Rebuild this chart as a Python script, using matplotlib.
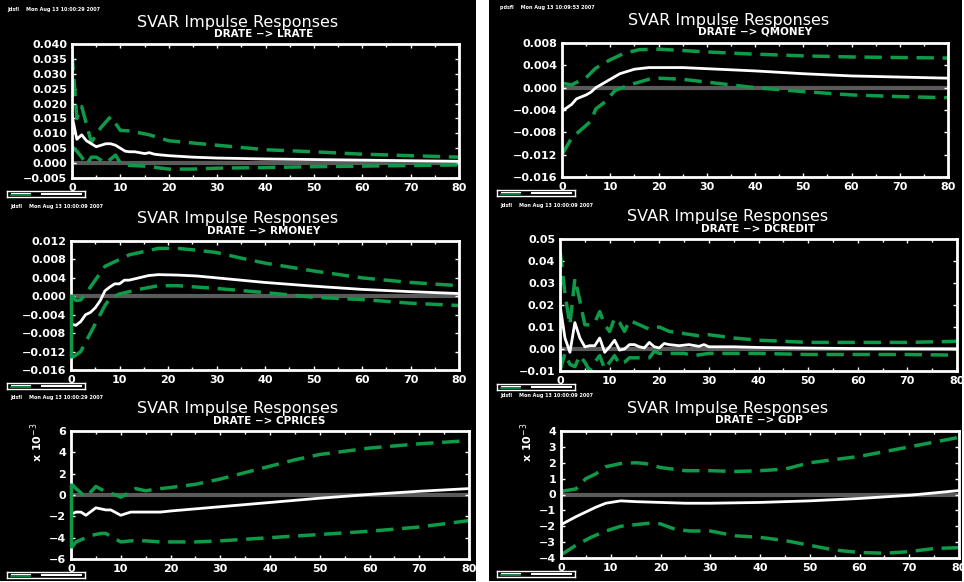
import numpy as np
import matplotlib.pyplot as plt
from matplotlib.patches import Rectangle

# ---- data (horizon, response) ----
lrate_x = [0, 1, 2, 3, 4, 5, 6, 7, 8, 9, 10, 11, 12, 13, 14, 15, 16, 17, 18, 20, 25, 30, 40, 50, 60, 70, 80]
lrate_irf = [0.016, 0.008, 0.0095, 0.0075, 0.0065, 0.0055, 0.006, 0.0065, 0.0065, 0.006, 0.005, 0.004,
             0.0038, 0.0038, 0.0035, 0.0032, 0.0035, 0.003, 0.0028, 0.0025, 0.002, 0.0017, 0.0014,
             0.0012, 0.001, 0.0008, 0.0006]
lrate_up_x = [0, 1, 2, 4, 6, 8, 10, 12, 16, 20, 30, 40, 50, 60, 70, 80]
lrate_up = [0.037, 0.015, 0.019, 0.007, 0.012, 0.0156, 0.011, 0.0108, 0.0095, 0.0075, 0.006, 0.0045,
            0.0038, 0.003, 0.0025, 0.002]
lrate_lo_x = [0, 1, 2, 3, 4, 5, 7, 9, 10, 11, 15, 20, 25, 30, 40, 50, 60, 70, 80]
lrate_lo = [0.0055, 0.004, 0.002, -0.0005, 0.002, 0.002, 0.0, 0.0027, 0.0, -0.0007, -0.001, -0.002,
            -0.002, -0.0017, -0.0015, -0.0012, -0.001, -0.0008, -0.0006]

qmoney_x = [0, 2, 3, 5, 6, 7, 10, 12, 15, 18, 25, 30, 40, 50, 60, 70, 80]
qmoney_irf = [-0.0042, -0.003, -0.002, -0.0013, -0.0008, 0.0, 0.0015, 0.0025, 0.0033, 0.0036, 0.0036,
              0.0034, 0.003, 0.0025, 0.0021, 0.0019, 0.0017]
qmoney_up_x = [0, 2, 5, 7, 10, 13, 16, 20, 30, 40, 50, 60, 70, 80]
qmoney_up = [0.0008, 0.0005, 0.0018, 0.0035, 0.005, 0.0062, 0.0068, 0.0069, 0.0064, 0.006, 0.0057,
             0.0055, 0.0054, 0.0053]
qmoney_lo_x = [0, 2, 4, 6, 7, 9, 11, 14, 18, 20, 25, 30, 40, 50, 60, 70, 80]
qmoney_lo = [-0.012, -0.009, -0.0075, -0.006, -0.0038, -0.0025, -0.0005, 0.0005, 0.0015, 0.0017,
             0.0015, 0.001, 0.0, -0.0007, -0.0013, -0.0016, -0.0018]

rmoney_x = [0, 1, 2, 3, 4, 5, 6, 7, 8, 9, 10, 11, 12, 14, 16, 18, 22, 26, 30, 35, 40, 50, 60, 70, 80]
rmoney_irf = [-0.006, -0.0063, -0.0055, -0.004, -0.0035, -0.0025, -0.001, 0.0012, 0.002, 0.0027, 0.0027,
              0.0035, 0.0035, 0.004, 0.0045, 0.0047, 0.0046, 0.0044, 0.004, 0.0035, 0.003, 0.0022,
              0.0015, 0.001, 0.0006]
rmoney_up_x = [0, 1, 2, 4, 6, 7, 9, 10, 12, 15, 18, 22, 26, 30, 35, 40, 50, 60, 70, 80]
rmoney_up = [0.0004, -0.0009, -0.0008, 0.002, 0.005, 0.0065, 0.0075, 0.008, 0.009, 0.0097, 0.0104,
             0.0104, 0.01, 0.0095, 0.0083, 0.0072, 0.0055, 0.004, 0.003, 0.0023]
rmoney_lo_x = [0, 2, 4, 6, 7, 8, 10, 14, 18, 22, 30, 40, 50, 60, 70, 80]
rmoney_lo = [-0.0135, -0.012, -0.008, -0.004, -0.002, -0.0005, 0.0005, 0.0015, 0.0023, 0.0023, 0.0017,
             0.0008, -0.0002, -0.0007, -0.0015, -0.002]

dcredit_x = [0, 1, 2, 3, 4, 5, 6, 7, 8, 9, 10, 11, 12, 13, 14, 15, 16, 17, 18, 19, 20, 21, 22, 24, 26,
             28, 29, 30, 35, 40, 50, 60, 70, 80]
dcredit_irf = [0.02, 0.005, -0.0015, 0.012, 0.005, 0.001, 0.0015, 0.0015, 0.005, -0.0015, 0.001, 0.004,
               -0.0005, 0.0, 0.002, 0.002, 0.001, 0.0005, 0.003, 0.001, 0.0005, 0.0025, 0.002, 0.0015,
               0.002, 0.0012, 0.002, 0.001, 0.001, 0.0007, 0.0004, 0.0002, 0.0001, 0.0]
dcredit_up_x = [0, 1, 2, 3, 4, 5, 6, 7, 8, 9, 10, 11, 12, 13, 14, 15, 16, 18, 20, 22, 25, 28, 30, 35,
                40, 50, 60, 70, 80]
dcredit_up = [0.045, 0.025, 0.011, 0.032, 0.022, 0.011, 0.011, 0.012, 0.017, 0.011, 0.008, 0.014,
              0.012, 0.008, 0.013, 0.012, 0.011, 0.009, 0.01, 0.008, 0.007, 0.006, 0.0065, 0.005,
              0.004, 0.003, 0.003, 0.003, 0.0035]
dcredit_lo_x = [0, 1, 2, 3, 4, 5, 6, 7, 8, 9, 10, 11, 12, 13, 14, 16, 18, 19, 20, 25, 27, 30, 40, 50,
                60, 70, 80]
dcredit_lo = [-0.01, -0.002, -0.007, -0.008, -0.003, -0.006, -0.01, -0.006, -0.003, -0.009, -0.006,
              -0.003, -0.007, -0.006, -0.004, -0.004, -0.004, -0.001, -0.002, -0.002, -0.003, -0.002,
              -0.002, -0.0025, -0.0025, -0.0025, -0.0028]

# x 10^-3
cprices_x = [0, 1, 2, 3, 5, 7, 8, 10, 12, 15, 18, 20, 25, 30, 40, 50, 60, 70, 80]
cprices_irf = [-1.8, -1.6, -1.6, -1.9, -1.2, -1.4, -1.4, -1.9, -1.6, -1.6, -1.6, -1.5, -1.3, -1.1, -0.7,
               -0.3, 0.05, 0.35, 0.6]
cprices_up_x = [0, 1, 2, 3, 5, 7, 9, 10, 12, 13, 15, 18, 20, 25, 30, 35, 40, 45, 50, 55, 60, 70, 80]
cprices_up = [1.1, 0.6, 0.2, -0.2, 0.8, 0.3, 0.0, -0.2, 0.3, 0.6, 0.4, 0.6, 0.7, 1.0, 1.5, 2.1, 2.7,
              3.3, 3.8, 4.1, 4.4, 4.8, 5.1]
cprices_lo_x = [0, 1, 2, 4, 6, 7, 10, 12, 15, 18, 20, 25, 30, 40, 50, 60, 70, 80]
cprices_lo = [-5.0, -4.4, -4.2, -3.8, -3.6, -3.6, -4.4, -4.3, -4.3, -4.4, -4.4, -4.4, -4.3, -4.0, -3.7,
              -3.4, -3.0, -2.4]

gdp_x = [0, 3, 5, 7, 9, 12, 15, 20, 25, 30, 40, 45, 50, 60, 70, 80]
gdp_irf = [-1.9, -1.4, -1.1, -0.8, -0.55, -0.4, -0.45, -0.5, -0.55, -0.55, -0.5, -0.45, -0.4, -0.25,
           -0.05, 0.25]
gdp_up_x = [0, 3, 5, 7, 9, 12, 15, 17, 20, 25, 30, 35, 40, 45, 50, 55, 60, 65, 70, 75, 80]
gdp_up = [0.2, 0.35, 1.0, 1.3, 1.75, 1.95, 2.0, 1.95, 1.7, 1.5, 1.5, 1.45, 1.5, 1.6, 2.0, 2.2, 2.4,
          2.7, 3.0, 3.3, 3.6]
gdp_lo_x = [0, 3, 6, 9, 12, 15, 18, 20, 23, 26, 30, 35, 40, 45, 50, 55, 60, 65, 70, 75, 80]
gdp_lo = [-3.8, -3.2, -2.7, -2.3, -2.0, -1.9, -1.8, -1.85, -2.2, -2.3, -2.3, -2.6, -2.7, -2.9, -3.2,
          -3.5, -3.65, -3.7, -3.6, -3.4, -3.35]

stamps = ['Jdsfl    Mon Aug 13 10:00:29 2007', 'pdsfl    Mon Aug 13 10:09:53 2007',
          'Jdsfl    Mon Aug 13 10:00:09 2007', 'Jdsfl    Mon Aug 13 10:00:09 2007',
          'Jdsfl    Mon Aug 13 10:00:29 2007', 'Jdsfl    Mon Aug 13 10:00:09 2007']

GREEN = '#0e9a48'
W, H = 964, 582

fig = plt.figure(figsize=(9.64, 5.82), dpi=100)
fig.patch.set_facecolor('white')
# black backgrounds of the two columns
fig.patches.append(Rectangle((0, 1.5 / H), 476 / W, 1 - 1.5 / H, transform=fig.transFigure,
                             facecolor='black', edgecolor='none', zorder=-10))
fig.patches.append(Rectangle((489 / W, 1.5 / H), 473 / W, 1 - 1.5 / H, transform=fig.transFigure,
                             facecolor='black', edgecolor='none', zorder=-10))


def px_axes(l, t, r, b):
    return fig.add_axes([l / W, 1 - b / H, (r - l) / W, (b - t) / H])


panels = [
    # (box px l,t,r,b), name, series, yticks, fmt, x10, title centre x, title y, subtitle x, subtitle y, stamp
    ((72, 44, 459, 178), 'LRATE', (lrate_x, lrate_irf, lrate_up_x, lrate_up, lrate_lo_x, lrate_lo),
     np.arange(-0.005, 0.0401, 0.005), '%.3f', False, 238, 22, 264, 34, (7, 9), False),
    ((562, 43, 948, 177), 'QMONEY', (qmoney_x, qmoney_irf, qmoney_up_x, qmoney_up, qmoney_lo_x, qmoney_lo),
     np.arange(-0.016, 0.0081, 0.004), '%.3f', False, 729, 20, 755, 32, (500, 8), False),
    ((71, 241, 459, 370), 'RMONEY', (rmoney_x, rmoney_irf, rmoney_up_x, rmoney_up, rmoney_lo_x, rmoney_lo),
     np.arange(-0.016, 0.0121, 0.004), '%.3f', False, 238, 219, 264, 231, (10, 206), True),
    ((560, 239, 957, 371), 'DCREDIT', (dcredit_x, dcredit_irf, dcredit_up_x, dcredit_up, dcredit_lo_x, dcredit_lo),
     np.arange(-0.01, 0.0501, 0.01), '%.2f', False, 728, 217, 758, 229, (500, 205), False),
    ((71, 431, 469, 559), 'CPRICES', (cprices_x, cprices_irf, cprices_up_x, cprices_up, cprices_lo_x, cprices_lo),
     np.arange(-6, 6.1, 2), '%d', True, 238, 409, 269, 421, (10, 397), True),
    ((561, 431, 959, 558), 'GDP', (gdp_x, gdp_irf, gdp_up_x, gdp_up, gdp_lo_x, gdp_lo),
     np.arange(-4, 4.1, 1), '%d', True, 728, 408, 759, 420, (500, 396), False),
]

for i, (box, name, ser, yt, fmt, x10, tx, ty, sx, sy, st, vbar) in enumerate(panels):
    ax = px_axes(*box)
    ax.set_facecolor('black')
    xs, irf, ux, up, lx, lo = ser
    ax.axhline(0, color='#5a5a5a', lw=3, zorder=1)
    ax.plot(ux, up, color=GREEN, lw=2.5, dashes=(5, 2.5), zorder=2)
    ax.plot(lx, lo, color=GREEN, lw=2.5, dashes=(5, 2.5), zorder=2)
    if vbar:
        ax.vlines(ux[0], lo[0], up[0], color=GREEN, lw=2.5, zorder=4, clip_on=False)
    ax.plot(xs, irf, color='white', lw=2, zorder=3)
    ax.set_xlim(0, 80)
    ax.set_ylim(yt[0], yt[-1])
    ax.set_xticks(np.arange(0, 81, 10))
    ax.set_xticks(np.arange(0, 81, 5), minor=True)
    ax.set_yticks(yt)
    ax.set_yticklabels([(fmt % v).replace('-', '\u2212') if abs(v) > 1e-12 else fmt % 0 for v in yt])
    for s in ax.spines.values():
        s.set_color('white')
        s.set_linewidth(2)
    ax.tick_params(which='both', direction='in', colors='white', top=True, right=True,
                   labelsize=8, width=1, length=3, pad=3.5)
    ax.tick_params(which='minor', length=2)
    for lab in ax.get_xticklabels() + ax.get_yticklabels():
        lab.set_fontweight('bold')
    if x10:
        ax.text(-0.085, 0.91, r'x 10$^{-3}$', transform=ax.transAxes, rotation=90, color='white',
                fontsize=8, fontweight='bold', ha='center', va='center')
    fig.text(tx / W, 1 - ty / H, 'SVAR Impulse Responses', color='white', fontsize=11.5,
             ha='center', va='center')
    fig.text(sx / W, 1 - sy / H, 'DRATE \u2212> ' + name, color='white', fontsize=7.5,
             fontweight='bold', ha='center', va='center')
    fig.text(st[0] / W, 1 - st[1] / H, stamps[i], color='white', fontsize=3.5, fontweight='bold',
             ha='left', va='center')
    # small key box under each panel
    kx = 7 if box[0] < 300 else 497
    kax = px_axes(kx, box[3] + 13, kx + 78, box[3] + 19)
    kax.set_facecolor('black')
    kax.plot([0.05, 0.3], [0.35, 0.35], color=GREEN, lw=1.2)
    kax.plot([0.05, 0.3], [0.7, 0.7], color='white', lw=0.8)
    kax.plot([0.45, 0.95], [0.55, 0.55], color='white', lw=1.5)
    kax.set_xlim(0, 1)
    kax.set_ylim(0, 1)
    kax.set_xticks([])
    kax.set_yticks([])
    for s in kax.spines.values():
        s.set_color('white')
        s.set_linewidth(1)

fig.savefig('out.png', dpi=100, facecolor='white')
